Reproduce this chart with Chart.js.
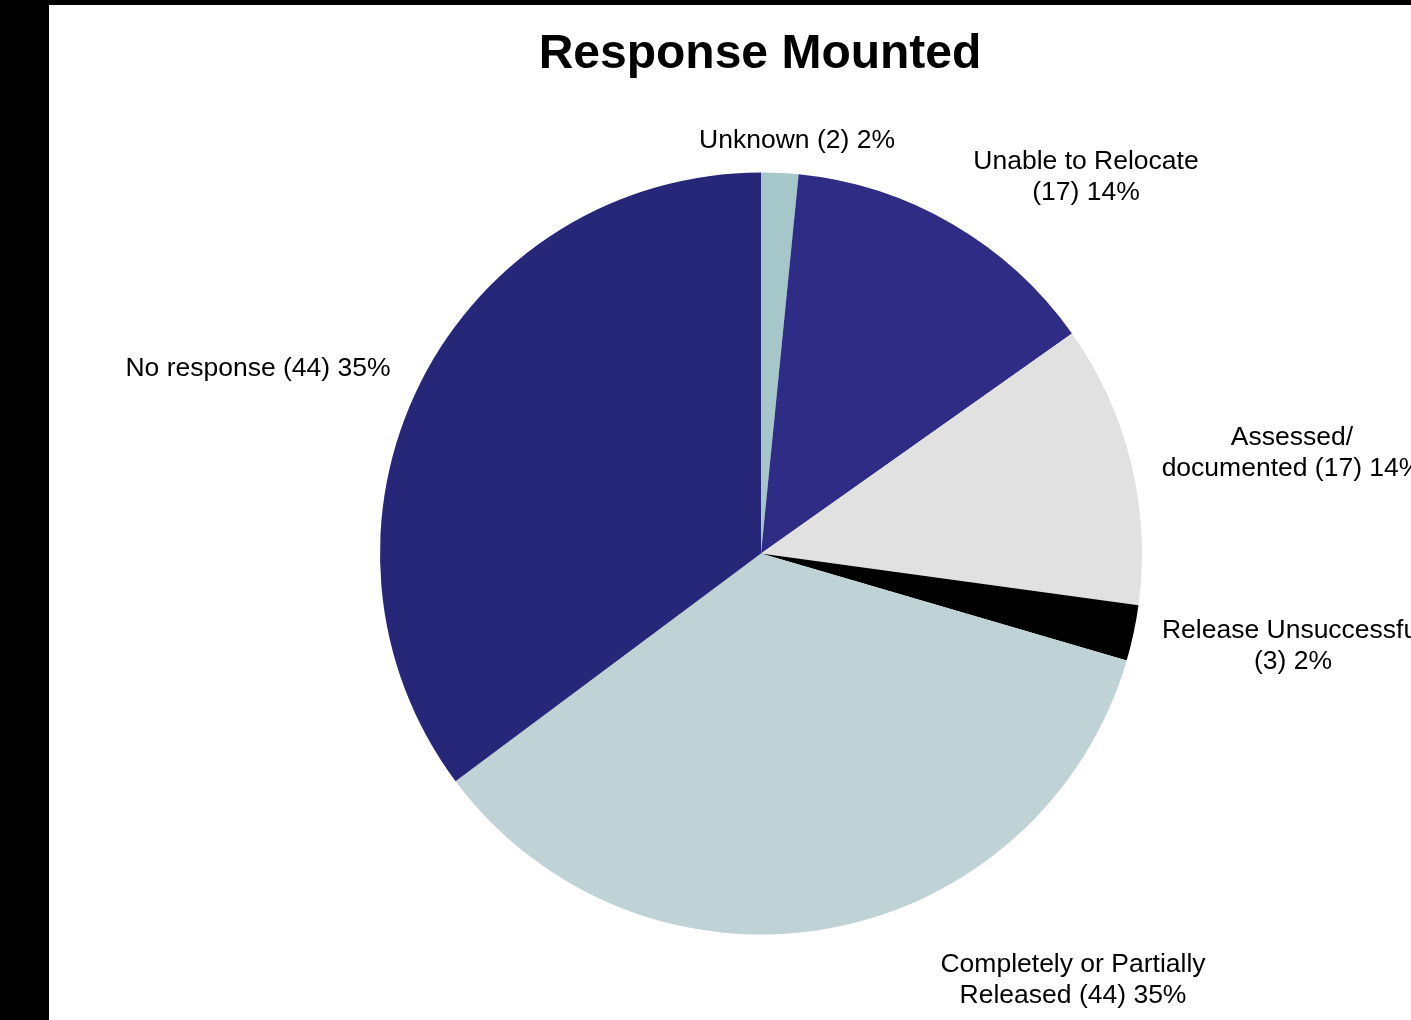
<!DOCTYPE html>
<html>
<head>
<meta charset="utf-8">
<script src="https://cdn.jsdelivr.net/npm/chart.js@4/dist/chart.umd.min.js"></script>
<style>
    html, body {
        margin: 0;
        padding: 0;
        background: #000;
        overflow: hidden;
        width: 1411px;
        height: 1020px;
    }
    #wrap {
        position: absolute;
        left: 49px;
        top: 5px;
        width: 1362px;
        height: 1015px;
        background: #fff;
    }
</style>
</head>
<body>
<div id="wrap"><canvas id="response-mounted"></canvas></div>
<script>
// Slices, clockwise from 12 o'clock
const categories = [
    "Unknown",
    "Unable to Relocate",
    "Assessed/ documented",
    "Release Unsuccessful",
    "Completely or Partially Released",
    "No response",
];
// slice sizes as drawn in the picture
const sliceValues = [2, 17.3, 15.2, 3, 44.8, 44.7];
// label text as printed next to each slice
const labelLines = [
    ["Unknown (2) 2%"],
    ["Unable to Relocate", "(17) 14%"],
    ["Assessed/", "documented (17) 14%"],
    ["Release Unsuccessful", "(3) 2%"],
    ["Completely or Partially", "Released (44) 35%"],
    ["No response (44) 35%"],
];
const sliceColors = ["#a5c7c9", "#2e2c85", "#e1e1e1", "#000000", "#bfd2d5", "#27277a"];

// where each label block sits, offset from the pie centre
const labelOffsets = [
    [36, -413],
    [325, -376],
    [531, -100],
    [532, 93],
    [312, 427],
    [-503, -185],
];

const FONT = "'Liberation Sans', Arial, sans-serif";

const labelPlugin = {
    id: "outsideLabels",
    afterDraw: (chart) => {
        const ctx = chart.ctx;
        const arc = chart.getDatasetMeta(0).data[0];
        const cx = arc.x;
        const cy = arc.y;
        ctx.save();
        ctx.fillStyle = "#000";
        ctx.textAlign = "center";
        ctx.textBaseline = "middle";

        // title
        ctx.font = `bold 48px ${FONT}`;
        ctx.fillText("Response Mounted", chart.width / 2 + 30, 50);

        ctx.font = `26.5px ${FONT}`;
        const lineH = 31;
        labelLines.forEach((lines, i) => {
            const x = cx + labelOffsets[i][0];
            const y0 = cy + labelOffsets[i][1] - ((lines.length - 1) * lineH) / 2;
            lines.forEach((line, j) => {
                ctx.fillText(line, x, y0 + j * lineH);
            });
        });
        ctx.restore();
    },
};

const pieData = {
    labels: categories,
    datasets: [
        {
            data: sliceValues,
            backgroundColor: sliceColors,
            borderWidth: 0,
            hoverOffset: 0,
        },
    ],
};

const pieConfig = {
    type: "pie",
    data: pieData,
    options: {
        responsive: true,
        maintainAspectRatio: false,
        animation: false,
        events: [],
        layout: {
            padding: { left: 331, right: 269, top: 167.5, bottom: 85.5 },
        },
        plugins: {
            legend: { display: false },
            title: { display: false },
            tooltip: { enabled: false },
        },
    },
    plugins: [labelPlugin],
};

const pieChart = new Chart(document.getElementById("response-mounted"), pieConfig);
</script>
</body>
</html>
